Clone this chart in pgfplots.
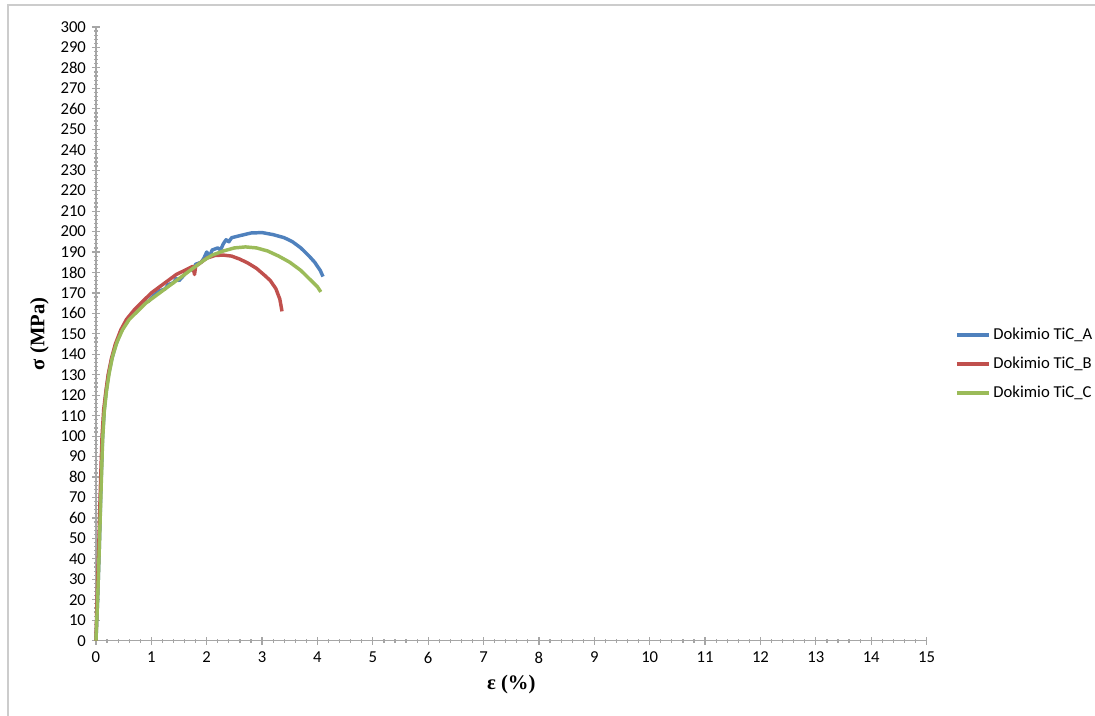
\documentclass[border=0pt]{standalone}
\usepackage{pgfplots}
\pgfplotsset{compat=1.18}
\usepackage{fontspec}
\setmainfont{Carlito}
\newfontfamily\labfont{Liberation Serif}
\definecolor{sA}{HTML}{4F81BD}
\definecolor{sB}{HTML}{C0504D}
\definecolor{sC}{HTML}{9BBB59}
\definecolor{axgray}{HTML}{A6A6A6}
\begin{document}
\begin{tikzpicture}
\begin{axis}[
  name=ax,
  scale only axis,
  width=623.25pt, height=460.5pt,
  xmin=0, xmax=15, ymin=0, ymax=300,
  xtick={0,1,...,15}, ytick={0,10,...,300},
  minor x tick num=4, minor y tick num=4,
  axis x line*=bottom, axis y line*=left,
  axis line style={axgray, line width=1pt, -},
  tick align=center,
  major tick length=6pt, minor tick length=3pt,
  tick style={axgray, line width=0.9pt},
  /pgf/number format/assume math mode=true,
  ticklabel style={font=\fontsize{12.5}{14}\selectfont},
  xticklabel style={yshift=-2pt},
  yticklabel style={xshift=-1pt},
  xlabel={\labfont\bfseries ε (\%)},
  ylabel={\labfont\bfseries σ (MPa)},
  xlabel style={font=\fontsize{15.5}{17}\selectfont, yshift=-2pt},
  ylabel style={font=\fontsize{15.5}{17}\selectfont, yshift=2pt},
  legend style={at={(1.034,0.451)}, anchor=west, draw=none, fill=none,
    font=\fontsize{12.5}{14}\selectfont, row sep=7.5pt,
    legend cell align=left, inner xsep=0pt},
  legend image code/.code={\draw[#1, line width=2.6pt] (0cm,0cm) -- (0.85cm,0cm);},
  every axis plot/.append style={line width=2.6pt, line join=round},
  clip=false,
]
\addplot[sA] coordinates {(0,0)(0.03,20)(0.06,45)(0.09,75)(0.12,100)(0.15,113)(0.18,121)(0.22,129)(0.28,137)(0.35,144)(0.45,151)(0.55,156)(0.65,160)(0.75,162)(0.85,165)(0.95,166)(1.05,169)(1.15,171)(1.25,172)(1.3,174)(1.4,175)(1.45,177)(1.5,176)(1.6,179)(1.7,182)(1.75,181)(1.8,184)(1.9,185)(1.95,187)(2.0,190)(2.05,188)(2.1,191)(2.2,192)(2.25,191)(2.3,194)(2.35,196)(2.4,195)(2.45,197)(2.6,198)(2.8,199.3)(3.0,199.5)(3.2,198.5)(3.4,197)(3.55,195)(3.7,192)(3.85,188)(3.95,185)(4.05,181)(4.1,178)};
\addlegendentry{Dokimio TiC\_A}
\addplot[sB] coordinates {(0,0)(0.02,20)(0.05,45)(0.08,75)(0.11,100)(0.14,113)(0.18,122)(0.22,130)(0.28,138)(0.35,145)(0.45,152)(0.55,157)(0.7,162)(0.85,166)(1.0,170)(1.15,173)(1.3,176)(1.45,179)(1.6,181)(1.75,183)(1.78,179)(1.8,183)(1.9,185)(2.0,187)(2.15,188.3)(2.3,188.5)(2.45,188)(2.6,186.5)(2.75,184.5)(2.9,182)(3.05,178.5)(3.15,176)(3.25,172)(3.32,167)(3.36,161)};
\addlegendentry{Dokimio TiC\_B}
\addplot[sC] coordinates {(0,0)(0.03,20)(0.06,45)(0.09,72)(0.12,98)(0.15,112)(0.19,122)(0.24,131)(0.3,139)(0.38,146)(0.48,152)(0.6,157)(0.75,161)(0.9,165)(1.05,168)(1.2,171)(1.35,174)(1.5,177)(1.65,180)(1.8,183)(1.95,186)(2.1,188.5)(2.3,190.5)(2.5,192)(2.7,192.5)(2.9,192)(3.1,190.5)(3.3,188)(3.5,185)(3.7,181)(3.85,177)(4.0,173)(4.06,170.5)};
\addlegendentry{Dokimio TiC\_C}
\end{axis}
\useasboundingbox ([xshift=-72pt,yshift=-56.25pt]ax.south west) rectangle ([xshift=126pt,yshift=20.25pt]ax.north east);
\draw[gray!40, line width=1.5pt] ([xshift=-66pt,yshift=-60pt]ax.south west) -- ([xshift=-66pt,yshift=16.5pt]ax.north west) -- ([xshift=130pt,yshift=16.5pt]ax.north east);
\end{tikzpicture}
\end{document}
